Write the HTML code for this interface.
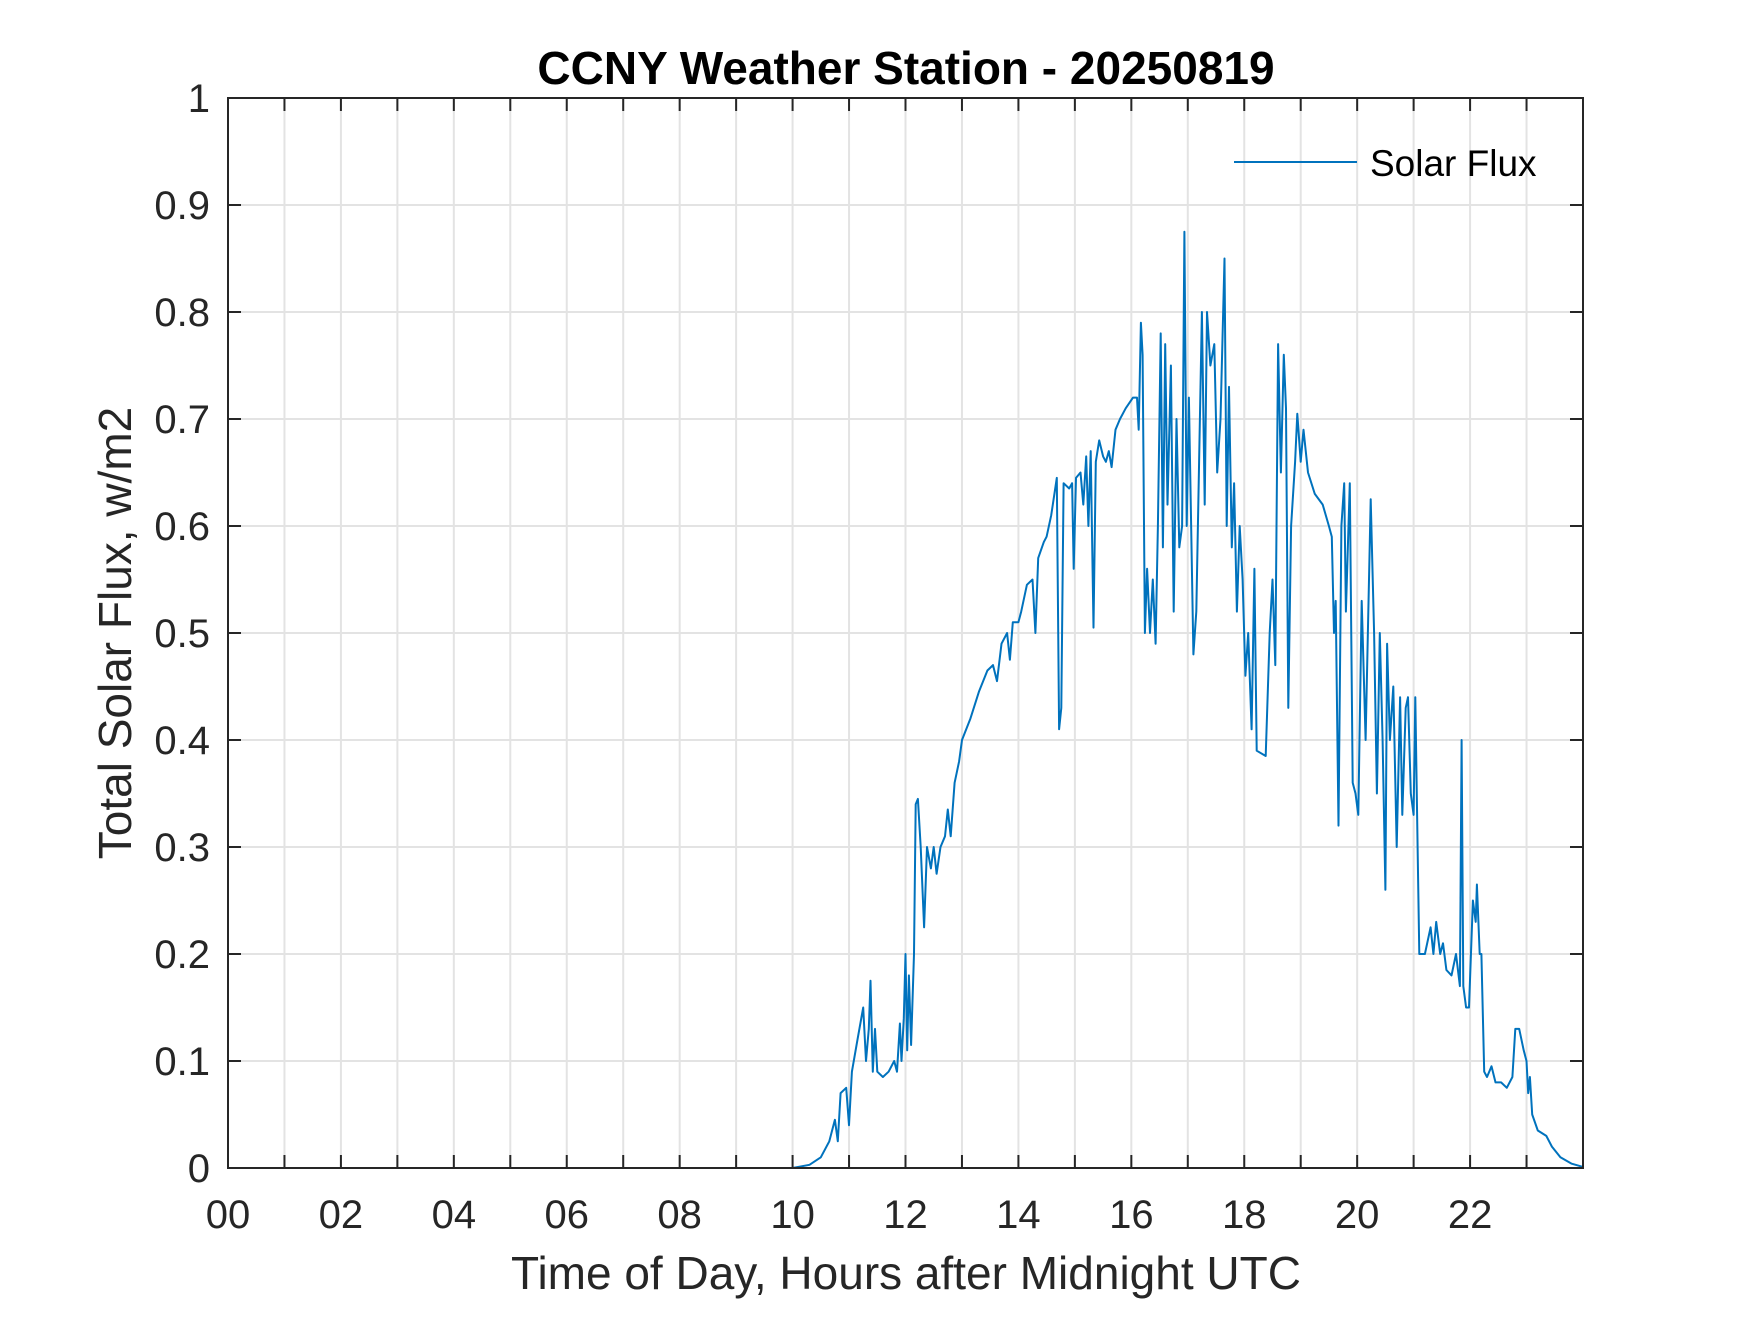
<!DOCTYPE html>
<html><head><meta charset="utf-8"><style>
body{margin:0;background:#fff;}
svg text{font-family:"Liberation Sans",Arial,sans-serif;fill:#262626;}
</style></head><body>
<svg id="chart" width="1750" height="1313" xmlns="http://www.w3.org/2000/svg">
<rect width="1750" height="1313" fill="#fff"/>
<g id="grid"></g>
<g id="series"></g>
<g id="axes"></g>
<text x="906" y="84" font-size="46" font-weight="bold" text-anchor="middle" style="fill:#000">CCNY Weather Station - 20250819</text>
<text x="906" y="1289" font-size="46" text-anchor="middle">Time of Day, Hours after Midnight UTC</text>
<text transform="translate(131,633) rotate(-90)" font-size="46" text-anchor="middle">Total Solar Flux, w/m2</text>
<g>
<line x1="1234" y1="162" x2="1357" y2="162" stroke="#0072BD" stroke-width="2"/>
<text x="1370" y="176" font-size="37" style="fill:#000">Solar Flux</text>
</g>
</svg>
<script>
const hours=[0,10.0,10.3,10.5,10.65,10.75,10.8,10.85,10.95,11.0,11.05,11.15,11.25,11.3,11.35,11.38,11.42,11.46,11.5,11.6,11.7,11.8,11.85,11.9,11.93,11.97,12.0,12.03,12.06,12.1,12.15,12.18,12.22,12.27,12.33,12.38,12.45,12.5,12.55,12.62,12.7,12.75,12.8,12.87,12.95,13.0,13.15,13.3,13.45,13.55,13.62,13.7,13.8,13.85,13.9,14.0,14.05,14.15,14.25,14.3,14.35,14.45,14.5,14.58,14.68,14.72,14.76,14.8,14.9,14.95,14.98,15.02,15.1,15.15,15.2,15.24,15.28,15.33,15.37,15.43,15.5,15.55,15.6,15.65,15.72,15.8,15.9,16.03,16.1,16.13,16.17,16.2,16.24,16.28,16.33,16.38,16.43,16.47,16.52,16.56,16.6,16.64,16.7,16.75,16.8,16.85,16.9,16.94,16.98,17.02,17.1,17.15,17.2,17.25,17.3,17.34,17.4,17.47,17.52,17.58,17.65,17.69,17.73,17.78,17.82,17.87,17.92,17.97,18.02,18.07,18.13,18.18,18.22,18.38,18.45,18.5,18.55,18.6,18.65,18.7,18.74,18.78,18.83,18.9,18.94,19.0,19.05,19.13,19.25,19.39,19.5,19.55,19.59,19.62,19.67,19.72,19.77,19.8,19.87,19.92,19.97,20.02,20.08,20.15,20.24,20.3,20.35,20.4,20.45,20.5,20.53,20.58,20.64,20.7,20.76,20.8,20.86,20.9,20.95,21.0,21.03,21.07,21.1,21.2,21.3,21.35,21.4,21.47,21.52,21.58,21.67,21.75,21.82,21.85,21.88,21.93,21.98,22.05,22.1,22.12,22.17,22.2,22.25,22.3,22.38,22.45,22.55,22.65,22.75,22.8,22.87,22.95,23.0,23.03,23.06,23.1,23.2,23.35,23.45,23.6,23.8,24.0];
const flux=[0,0,0.003,0.01,0.025,0.045,0.025,0.07,0.075,0.04,0.09,0.12,0.15,0.1,0.13,0.175,0.09,0.13,0.09,0.085,0.09,0.1,0.09,0.135,0.1,0.14,0.2,0.11,0.18,0.115,0.2,0.34,0.345,0.3,0.225,0.3,0.28,0.3,0.275,0.3,0.31,0.335,0.31,0.36,0.38,0.4,0.42,0.445,0.465,0.47,0.455,0.49,0.5,0.475,0.51,0.51,0.52,0.545,0.55,0.5,0.57,0.585,0.59,0.61,0.645,0.41,0.43,0.64,0.635,0.64,0.56,0.645,0.65,0.62,0.665,0.6,0.67,0.505,0.66,0.68,0.665,0.66,0.67,0.655,0.69,0.7,0.71,0.72,0.72,0.69,0.79,0.76,0.5,0.56,0.5,0.55,0.49,0.6,0.78,0.58,0.77,0.62,0.75,0.52,0.7,0.58,0.6,0.875,0.6,0.72,0.48,0.52,0.66,0.8,0.62,0.8,0.75,0.77,0.65,0.7,0.85,0.6,0.73,0.58,0.64,0.52,0.6,0.55,0.46,0.5,0.41,0.56,0.39,0.385,0.5,0.55,0.47,0.77,0.65,0.76,0.71,0.43,0.6,0.66,0.705,0.66,0.69,0.65,0.63,0.62,0.6,0.59,0.5,0.53,0.32,0.6,0.64,0.52,0.64,0.36,0.35,0.33,0.53,0.4,0.625,0.5,0.35,0.5,0.4,0.26,0.49,0.4,0.45,0.3,0.44,0.33,0.43,0.44,0.35,0.33,0.44,0.3,0.2,0.2,0.225,0.2,0.23,0.2,0.21,0.185,0.18,0.2,0.17,0.4,0.17,0.15,0.15,0.25,0.23,0.265,0.2,0.2,0.09,0.085,0.095,0.08,0.08,0.075,0.085,0.13,0.13,0.11,0.1,0.07,0.085,0.05,0.035,0.03,0.02,0.01,0.004,0.001];
const xTickLabels=["00","02","04","06","08","10","12","14","16","18","20","22"];
const yTickLabels=["0","0.1","0.2","0.3","0.4","0.5","0.6","0.7","0.8","0.9","1"];
const L=228,R=1583,T=98,B=1168;
const xs=h=>L+(h/24)*(R-L);
const ys=v=>B-(v/1)*(B-T);
const NS="http://www.w3.org/2000/svg";
function mk(tag,parent,attrs){const e=document.createElementNS(NS,tag);for(const k in attrs)e.setAttribute(k,attrs[k]);parent.appendChild(e);return e;}
const grid=document.getElementById('grid'),axes=document.getElementById('axes'),series=document.getElementById('series');
for(let h=0;h<=24;h++){
 const x=xs(h);
 const g=mk('line',grid,{x1:x,y1:T,x2:x,y2:B,stroke:'#e3e3e3','stroke-width':2});
 
 
 const t1=mk('line',axes,{x1:x,y1:B,x2:x,y2:B-13,stroke:'#262626','stroke-width':2});
 
 
 const t2=mk('line',axes,{x1:x,y1:T,x2:x,y2:T+13,stroke:'#262626','stroke-width':2});
 
 
}
xTickLabels.forEach((s,i)=>{
 const t=mk('text',axes,{x:xs(i*2),y:1228,'font-size':40,'text-anchor':'middle'});
 t.textContent=s;
 
 
});
yTickLabels.forEach((s,i)=>{
 const v=i/10,y=ys(v);
 const g=mk('line',grid,{x1:L,y1:y,x2:R,y2:y,stroke:'#e3e3e3','stroke-width':2});
 
 
 const t1=mk('line',axes,{x1:L,y1:y,x2:L+13,y2:y,stroke:'#262626','stroke-width':2});
 
 
 const t2=mk('line',axes,{x1:R,y1:y,x2:R-13,y2:y,stroke:'#262626','stroke-width':2});
 
 
 const t=mk('text',axes,{x:210,y:y+14,'font-size':40,'text-anchor':'end'});
 t.textContent=s;
 
 
});
const box=mk('rect',axes,{x:L,y:T,width:R-L,height:B-T,fill:'none',stroke:'#262626','stroke-width':2});


const d=hours.map((h,i)=>(i?'L':'M')+xs(h).toFixed(1)+','+ys(flux[i]).toFixed(1)).join('');
const p=mk('path',series,{d:d,fill:'none',stroke:'#0072BD','stroke-width':2,'stroke-linejoin':'round'});


</script>
</body></html>
